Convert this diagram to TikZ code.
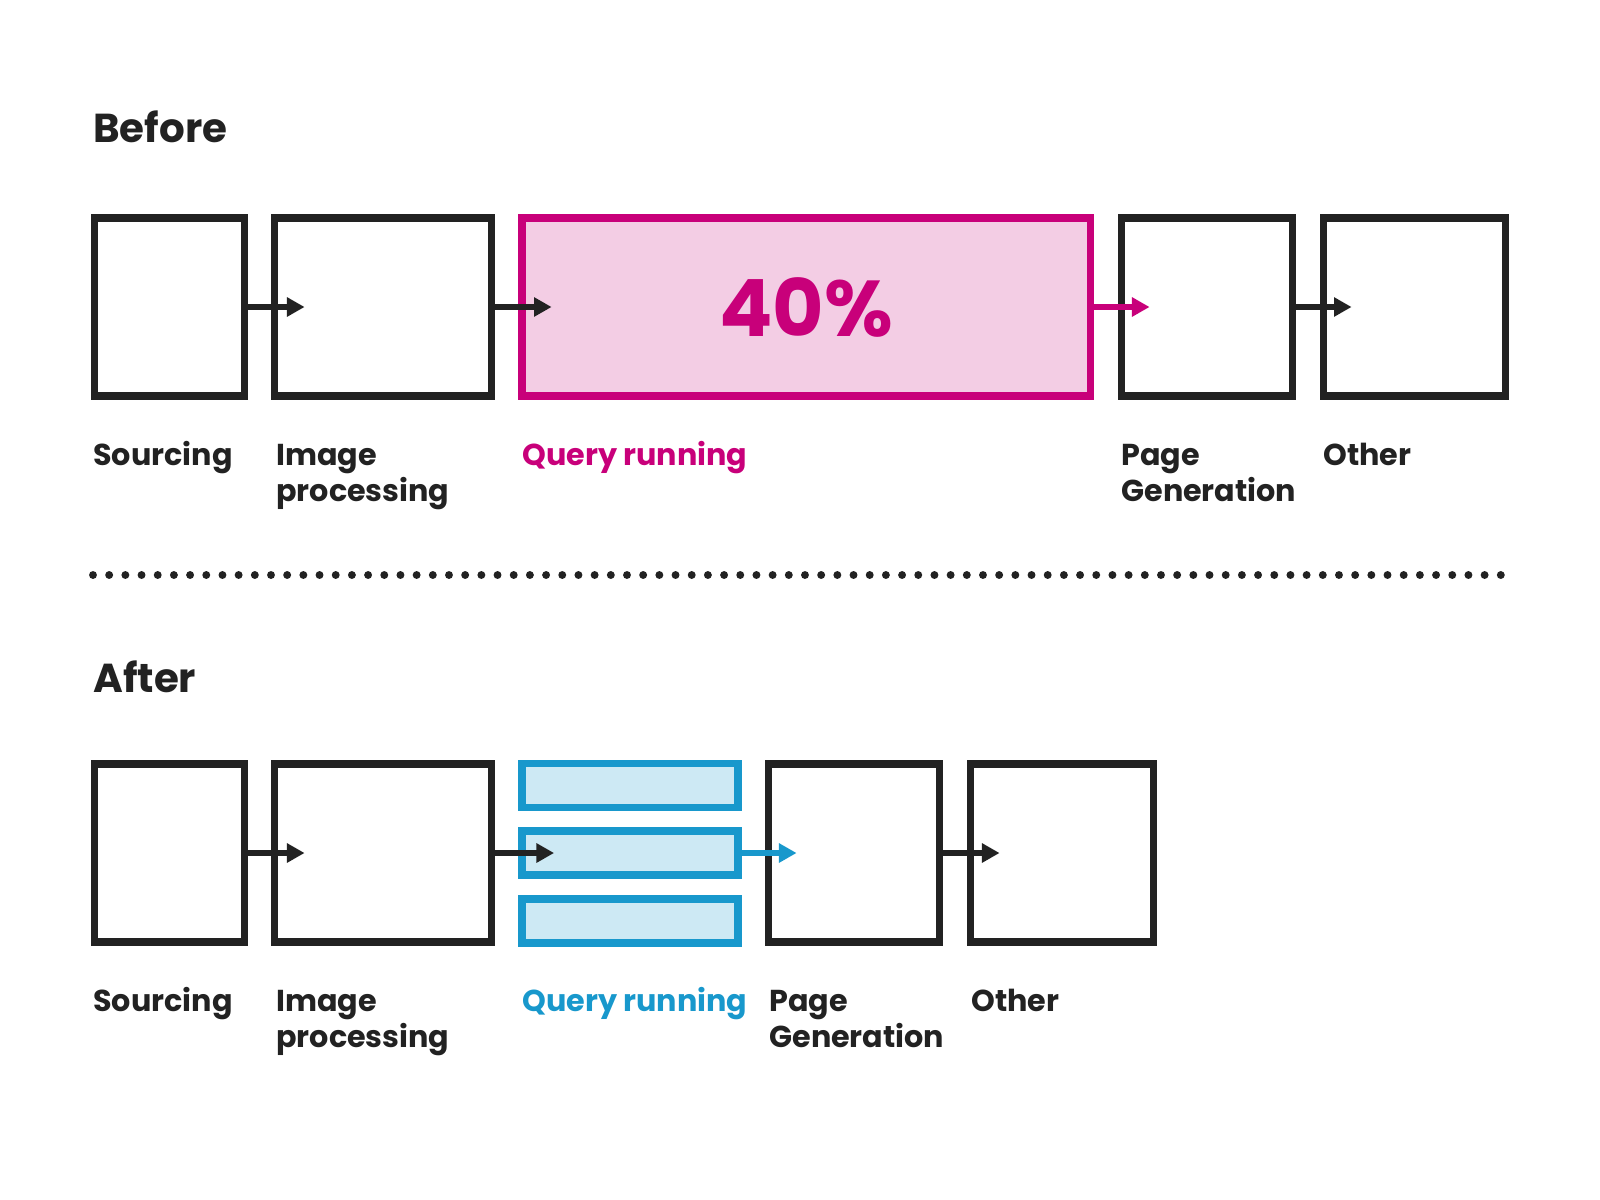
\documentclass[tikz,border=0pt]{standalone}
\usepackage{fontspec}
\setmainfont{Poppins}
\usetikzlibrary{positioning,arrows.meta}
\definecolor{inkblack}{RGB}{34,34,34}
\definecolor{querypink}{RGB}{200,0,122}
\definecolor{querypinkfill}{RGB}{243,205,228}
\definecolor{queryblue}{RGB}{24,152,204}
\definecolor{querybluefill}{RGB}{205,233,244}
\tikzset{
  stagebox/.style={draw=inkblack, line width=4.5pt, inner sep=0pt, minimum height=3.56cm},
  qbox/.style={stagebox, draw=queryblue, fill=querybluefill, minimum width=4.32cm, minimum height=0.88cm},
  arr/.style={-{Triangle[length=10pt,width=10.5pt]}, line width=3.8pt, inkblack},
  lbl/.style={anchor=base west, align=left, inner sep=0pt, font=\fontsize{17.2}{20.4}\selectfont\bfseries, text=inkblack},
  heading/.style={anchor=base west, inner sep=0pt, font=\fontsize{23}{28}\selectfont\bfseries, text=inkblack}
}

\begin{document}
\begin{tikzpicture}[x=0.02cm, y=-0.02cm]
\useasboundingbox (0,0) rectangle (1600,1200);

% Before
\node[heading] (before) at (93,142) {Before};
\node[stagebox, minimum width=3.0cm] (src) at (169.5,307) {};
\node[stagebox, minimum width=4.34cm] (img) at (383,307) {};
\node[stagebox, draw=querypink, fill=querypinkfill, minimum width=11.38cm,
      font=\fontsize{45}{50}\selectfont\bfseries, text=querypink] (query) at (806,307) {40\%};
\node[stagebox, minimum width=3.42cm] (page) at (1207,307) {};
\node[stagebox, minimum width=3.64cm] (other) at (1414.5,307) {};

\draw[arr] (src.east) -- ([xshift=0.68cm]img.west);
\draw[arr] (img.east) -- ([xshift=0.68cm]query.west);
\draw[arr, querypink] (query.east) -- ([xshift=0.64cm]page.west);
\draw[arr] (page.east) -- ([xshift=0.64cm]other.west);

% labels (two-line ones sit on their last baseline)
\node[lbl] (srclbl) at (93,465) {Sourcing};
\node[lbl] (imglbl) at (276,501) {Image\\processing};
\node[lbl, text=querypink] (querylbl) at (522,465) {Query running};
\node[lbl] (pagelbl) at (1121,501) {Page\\Generation};
\node[lbl] (otherlbl) at (1323,465) {Other};

% Separator
\coordinate (sepl) at (93,575);
\coordinate (sepr) at (1507,575);
\draw[inkblack, line width=4.5pt, line cap=round, dash pattern=on 0pt off 9.21pt] (sepl) -- (sepr);

% After
\node[heading] (after) at (93,692) {After};
\node[stagebox, minimum width=3.0cm] (src2) at (169.5,853) {};
\node[stagebox, minimum width=4.34cm] (img2) at (383,853) {};
\node[qbox] (qa) at (630,785.5) {};
\node[qbox] (qb) at (630,853) {};
\node[qbox] (qc) at (630,921) {};
\node[stagebox, minimum width=3.42cm] (page2) at (854,853) {};
\node[stagebox, minimum width=3.66cm] (other2) at (1062,853) {};

\draw[arr] (src2.east) -- ([xshift=0.68cm]img2.west);
\draw[arr] (img2.east) -- ([xshift=0.72cm]qb.west);
\draw[arr, queryblue] (qb.east) -- ([xshift=0.64cm]page2.west);
\draw[arr] (page2.east) -- ([xshift=0.66cm]other2.west);

\node[lbl] (srclbl2) at (93,1011) {Sourcing};
\node[lbl] (imglbl2) at (276,1047) {Image\\processing};
\node[lbl, text=queryblue] (querylbl2) at (522,1011) {Query running};
\node[lbl] (pagelbl2) at (769,1047) {Page\\Generation};
\node[lbl] (otherlbl2) at (971,1011) {Other};
\end{tikzpicture}
\end{document}
